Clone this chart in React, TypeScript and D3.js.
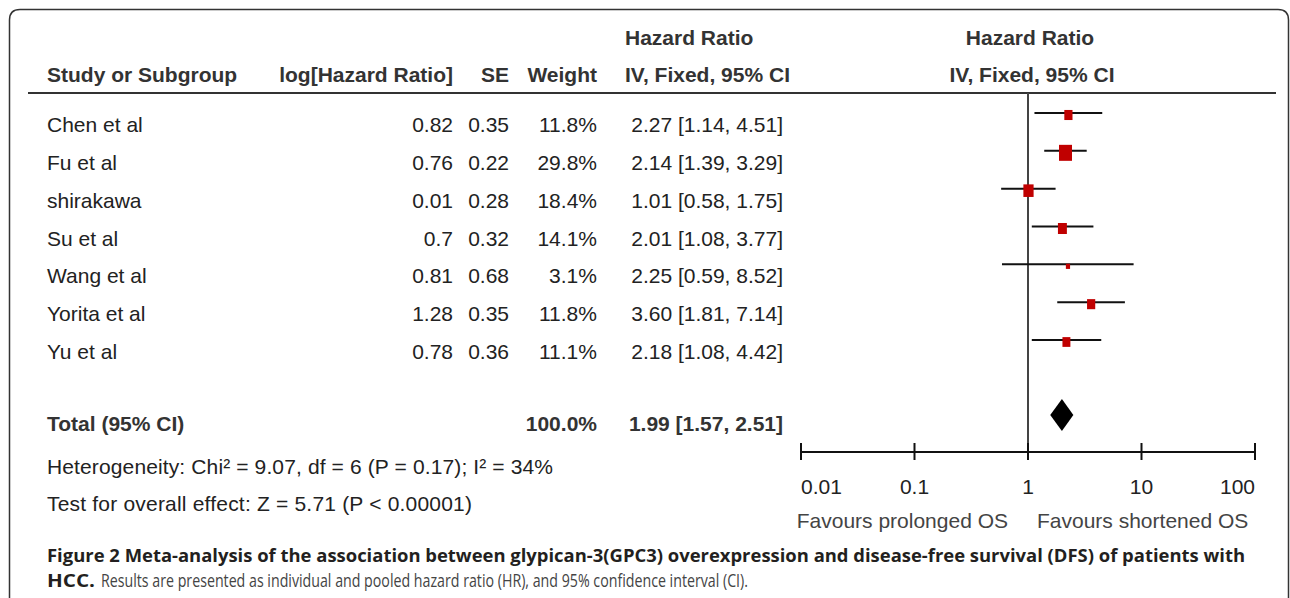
import React from "react";
import * as d3 from "d3";

const studies = ["Chen et al", "Fu et al", "shirakawa", "Su et al", "Wang et al", "Yorita et al", "Yu et al"];
const logHR = [0.82, 0.76, 0.01, 0.7, 0.81, 1.28, 0.78];
const seVals = [0.35, 0.22, 0.28, 0.32, 0.68, 0.35, 0.36];
const weights = [11.8, 29.8, 18.4, 14.1, 3.1, 11.8, 11.1];
const hrVals = [2.27, 2.14, 1.01, 2.01, 2.25, 3.6, 2.18];
const ciLow = [1.14, 1.39, 0.58, 1.08, 0.59, 1.81, 1.08];
const ciHigh = [4.51, 3.29, 1.75, 3.77, 8.52, 7.14, 4.42];
const totalHR = 1.99;
const totalLow = 1.57;
const totalHigh = 2.51;
const axisTicks = [0.01, 0.1, 1, 10, 100];
const tickLabels = ["0.01", "0.1", "1", "10", "100"];

const FONT = "'Liberation Sans', Arial, Helvetica, sans-serif";
const CAP_FONT = "'Open Sans', 'Noto Sans', sans-serif";

export default function App() {
  const x = d3.scaleLog().domain([0.01, 100]).range([801, 1255]);
  const rowY = d3.scaleLinear().domain([0, 6]).range([125, 352]);
  const sqW = d3.scaleSqrt().domain([0, 29.8]).range([0, 13]);
  const sqH = d3.scaleSqrt().domain([0, 29.8]).range([0, 16]);
  const fs = 21;
  const body = "#222";
  const head = "#333";
  const axisY = 452;
  const totalY = 424;
  const fmt = (v: number) => v.toFixed(2);

  const diamond = d3.line<[number, number]>()([
    [x(totalLow), totalY - 9],
    [x(totalHR), totalY - 25],
    [x(totalHigh), totalY - 9],
    [x(totalHR), totalY + 7],
    [x(totalLow), totalY - 9],
  ]) as string;

  return (
    <svg width={1290} height={598} style={{ position: "absolute", left: 0, top: 0 }} fontFamily={FONT}>
      <rect x={0} y={0} width={1290} height={598} fill="#fff" />
      <path d="M9.5,640 L9.5,20 Q9.5,9.5 20,9.5 L1278,9.5 Q1288.5,9.5 1288.5,20 L1288.5,640" fill="none" stroke="#333" strokeWidth={1.5} />

      {/* headers */}
      <g fontSize={fs} fontWeight="bold" fill={head}>
        <text x={625} y={45}>Hazard Ratio</text>
        <text x={1030} y={45} textAnchor="middle">Hazard Ratio</text>
        <text x={47} y={82}>Study or Subgroup</text>
        <text x={453} y={82} textAnchor="end">log[Hazard Ratio]</text>
        <text x={509} y={82} textAnchor="end">SE</text>
        <text x={597} y={82} textAnchor="end">Weight</text>
        <text x={625} y={82}>IV, Fixed, 95% CI</text>
        <text x={1032} y={82} textAnchor="middle">IV, Fixed, 95% CI</text>
      </g>
      <line x1={28} x2={1276} y1={93} y2={93} stroke="#333" strokeWidth={2} />

      {/* rows */}
      <g fontSize={fs} fill={body}>
        {studies.map((s, i) => {
          const y = rowY(i) + 7;
          return (
            <g key={s}>
              <text x={47} y={y}>{s}</text>
              <text x={453} y={y} textAnchor="end">{String(logHR[i])}</text>
              <text x={509} y={y} textAnchor="end">{fmt(seVals[i])}</text>
              <text x={597} y={y} textAnchor="end">{weights[i].toFixed(1)}%</text>
              <text x={783} y={y} textAnchor="end">{`${fmt(hrVals[i])} [${fmt(ciLow[i])}, ${fmt(ciHigh[i])}]`}</text>
            </g>
          );
        })}
      </g>

      {/* total */}
      <g fontSize={fs} fontWeight="bold" fill={head}>
        <text x={47} y={totalY + 7}>Total (95% CI)</text>
        <text x={597} y={totalY + 7} textAnchor="end">100.0%</text>
        <text x={783} y={totalY + 7} textAnchor="end">{`${fmt(totalHR)} [${fmt(totalLow)}, ${fmt(totalHigh)}]`}</text>
      </g>
      <g fontSize={fs} fill={body}>
        <text x={47} y={474} textLength={506} lengthAdjust="spacing">Heterogeneity: Chi² = 9.07, df = 6 (P = 0.17); I² = 34%</text>
        <text x={47} y={511} textLength={425} lengthAdjust="spacing">Test for overall effect: Z = 5.71 (P &lt; 0.00001)</text>
      </g>

      {/* forest */}
      <line x1={x(1)} x2={x(1)} y1={93} y2={axisY} stroke="#444" strokeWidth={2} />
      {studies.map((s, i) => {
        const cy = rowY(i) - 12;
        const w = sqW(weights[i]);
        const h = sqH(weights[i]);
        return (
          <g key={"f" + s}>
            <line x1={x(ciLow[i])} x2={x(ciHigh[i])} y1={cy} y2={cy} stroke="#111" strokeWidth={2} />
            <rect x={x(hrVals[i]) - w / 2} y={cy + 2 - h / 2} width={w} height={h} fill="#c00000" />
          </g>
        );
      })}
      <path d={diamond} fill="#000" />

      {/* axis */}
      <line x1={x(0.01)} x2={x(100)} y1={axisY} y2={axisY} stroke="#111" strokeWidth={2} />
      {axisTicks.map((t) => (
        <line key={"t" + t} x1={x(t)} x2={x(t)} y1={axisY - 9} y2={axisY + 8} stroke="#111" strokeWidth={2} />
      ))}
      <g fontSize={fs} fill={body}>
        {axisTicks.map((t, i) => (
          <text
            key={"l" + t}
            x={x(t)}
            y={494}
            textAnchor={i === 0 ? "start" : i === axisTicks.length - 1 ? "end" : "middle"}
          >
            {tickLabels[i]}
          </text>
        ))}
      </g>
      <g fontSize={fs} fill="#444">
        <text x={1008} y={528} textAnchor="end">Favours prolonged OS</text>
        <text x={1037} y={528}>Favours shortened OS</text>
      </g>

      {/* caption */}
      <text x={47} y={562} fontFamily={CAP_FONT} fontSize={18.5} fontWeight="bold" fill="#231f20" textLength={1198} lengthAdjust="spacingAndGlyphs">
        Figure 2 Meta-analysis of the association between glypican-3(GPC3) overexpression and disease-free survival (DFS) of patients with
      </text>
      <text x={47} y={587} fontFamily={CAP_FONT} fontSize={18.5} fontWeight="bold" fill="#231f20" textLength={48} lengthAdjust="spacingAndGlyphs">
        HCC.
      </text>
      <text x={101} y={587} fontFamily={CAP_FONT} fontSize={18.5} fill="#444" textLength={647} lengthAdjust="spacingAndGlyphs">
        Results are presented as individual and pooled hazard ratio (HR), and 95% confidence interval (CI).
      </text>
    </svg>
  );
}
